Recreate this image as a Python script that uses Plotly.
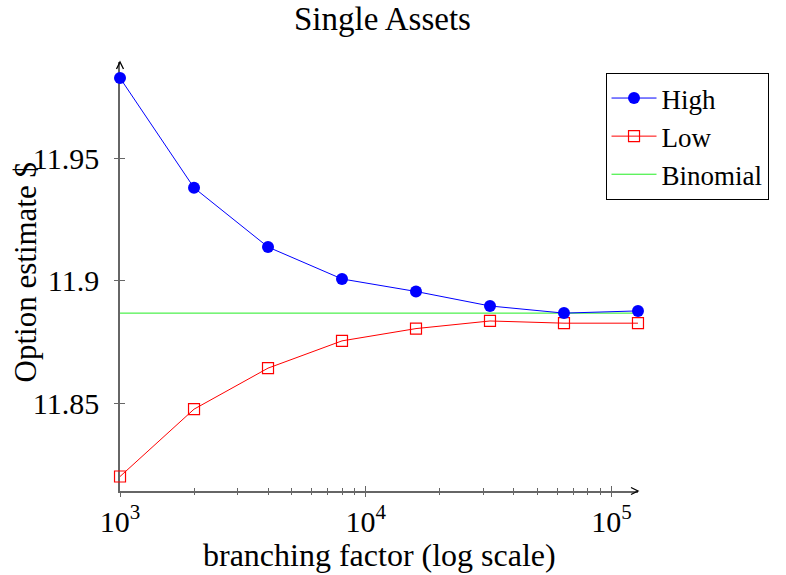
import math
import plotly.graph_objects as go

# Option estimates versus tree branching factor
BRANCHING = [1000, 2000, 4000, 8000, 16000, 32000, 64000, 128000]
HIGH = [11.9826, 11.9379, 11.9138, 11.9008, 11.8957, 11.8898, 11.8869, 11.8878]
LOW = [11.8204, 11.8478, 11.8645, 11.8756, 11.8806, 11.8837, 11.8828, 11.8828]
BINOMIAL = 11.8869

X_TICKS = [1000, 10000, 100000]
X_TICK_TEXT = ["10<sup>3</sup>", "10<sup>4</sup>", "10<sup>5</sup>"]
X_MINOR = [2000, 3000, 4000, 5000, 6000, 7000, 8000, 9000,
           20000, 30000, 40000, 50000, 60000, 70000, 80000, 90000]
Y_TICKS = [11.85, 11.9, 11.95]
Y_TICK_TEXT = ["11.85", "11.9", "11.95"]

FONT = "Liberation Serif"
AXIS_GREY = "#666666"

# a hair of slack so the end points count as inside the range
X_RANGE = [math.log10(1000) - 1e-4, math.log10(128000) + 1e-4]
Y_RANGE = [11.8145, 11.9891]

# plot area size in pixels, used to size the axis arrow tips
PLOT_W, PLOT_H = 518, 429

fig = go.Figure()

# carrier trace so the outward tick axes get drawn
fig.add_trace(go.Scatter(
    x=BRANCHING, y=[BINOMIAL] * len(BRANCHING), xaxis="x2", yaxis="y2",
    mode="lines", line=dict(width=0), showlegend=False, hoverinfo="skip",
))
fig.add_trace(go.Scatter(
    x=BRANCHING, y=[BINOMIAL] * len(BRANCHING), name="Binomial",
    mode="lines", line=dict(color="#22ee22", width=1),
    legendrank=3, cliponaxis=False,
))
fig.add_trace(go.Scatter(
    x=BRANCHING, y=LOW, name="Low", mode="lines+markers",
    line=dict(color="#ff0000", width=1),
    marker=dict(symbol="square-open", size=11, color="#ff0000",
                line=dict(width=1.2, color="#ff0000")),
    legendrank=2, cliponaxis=False,
))
fig.add_trace(go.Scatter(
    x=BRANCHING, y=HIGH, name="High", mode="lines+markers",
    line=dict(color="#0000ff", width=1),
    marker=dict(symbol="circle", size=12, color="#0000ff"),
    legendrank=1, cliponaxis=False,
))

common_x = dict(type="log", range=X_RANGE, showgrid=False, zeroline=False,
                layer="below traces")
common_y = dict(range=Y_RANGE, showgrid=False, zeroline=False,
                layer="below traces")

fig.update_layout(
    width=786, height=575,
    margin=dict(l=120, r=148, t=62, b=84, autoexpand=False),
    paper_bgcolor="white", plot_bgcolor="white",
    font=dict(family=FONT, size=31, color="black"),
    xaxis=dict(
        **common_x,
        showline=True, linecolor=AXIS_GREY, linewidth=1.5,
        tickmode="array", tickvals=X_TICKS, ticktext=X_TICK_TEXT,
        ticks="inside", ticklen=5, tickwidth=1, tickcolor=AXIS_GREY,
        tickfont=dict(family=FONT, size=30, color="black"),
        ticklabelstandoff=3,
        minor=dict(tickmode="array", tickvals=X_MINOR, ticks="inside",
                   ticklen=3, tickwidth=1, tickcolor=AXIS_GREY),
    ),
    xaxis2=dict(
        **common_x, overlaying="x", anchor="y", side="bottom",
        showline=False, showticklabels=False,
        tickmode="array", tickvals=X_TICKS,
        ticks="outside", ticklen=5, tickwidth=1, tickcolor=AXIS_GREY,
        minor=dict(tickmode="array", tickvals=X_MINOR, ticks="outside",
                   ticklen=3, tickwidth=1, tickcolor=AXIS_GREY),
    ),
    yaxis=dict(
        **common_y,
        showline=True, linecolor=AXIS_GREY, linewidth=1.5,
        tickmode="array", tickvals=Y_TICKS, ticktext=Y_TICK_TEXT,
        ticks="inside", ticklen=5, tickwidth=1, tickcolor=AXIS_GREY,
        tickfont=dict(family=FONT, size=30, color="black"),
        ticklabelstandoff=13,
    ),
    yaxis2=dict(
        **common_y, overlaying="y", anchor="x", side="left",
        showline=False, showticklabels=False,
        tickmode="array", tickvals=Y_TICKS,
        ticks="outside", ticklen=5, tickwidth=1, tickcolor=AXIS_GREY,
    ),
    legend=dict(
        x=0.9373, y=0.9744, xanchor="left", yanchor="top",
        bgcolor="white", bordercolor="black", borderwidth=1,
        font=dict(family=FONT, size=27, color="black"),
        itemwidth=45, traceorder="normal",
    ),
    showlegend=True,
)

annotations = [
    dict(text="Single Assets", xref="paper", yref="paper", x=0.506, y=1.1,
         xanchor="center", yanchor="middle", showarrow=False,
         font=dict(family=FONT, size=33, color="black")),
    dict(text="branching factor (log scale)", xref="paper", yref="paper",
         x=0.5, y=-0.149, xanchor="center", yanchor="middle", showarrow=False,
         font=dict(family=FONT, size=32, color="black")),
    dict(text="Option estimate $", xref="paper", yref="paper",
         x=-0.183, y=0.51, xanchor="center", yanchor="middle", textangle=-90,
         showarrow=False, font=dict(family=FONT, size=31, color="black")),
]
fig.update_layout(annotations=annotations)

# small open arrow tips at the ends of both axis lines
dx, dy = 7 / PLOT_W, 3.5 / PLOT_H
fig.add_shape(type="path", xref="paper", yref="paper",
              path=f"M {1 - dx} {dy} L 1 0 L {1 - dx} {-dy}",
              line=dict(color="black", width=1.3))
ex, ey = 3.5 / PLOT_W, 7 / PLOT_H
fig.add_shape(type="path", xref="paper", yref="paper",
              path=f"M {-ex} {1 - ey} L 0 1 L {ex} {1 - ey}",
              line=dict(color="black", width=1.3))

fig.write_html("out.html")
